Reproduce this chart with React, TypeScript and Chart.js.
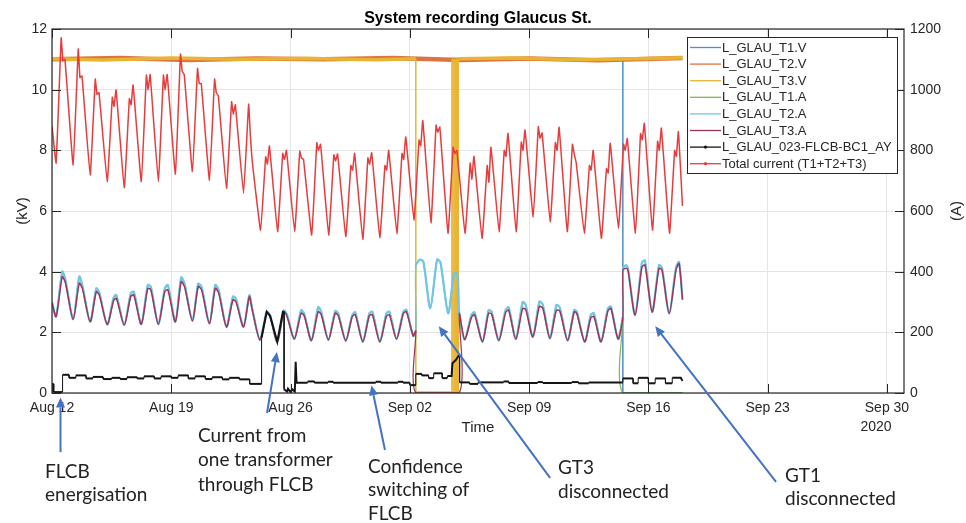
import React, { useEffect, useRef } from 'react';
import { Chart, registerables } from 'chart.js';

Chart.register(...registerables);

// ---------- data (x = days since Aug 12 2020, 00:00) ----------
const X_TICK_VALUES = [0, 7, 14, 21, 28, 35, 42, 49];
const X_TICK_LABELS = ['Aug 12', 'Aug 19', 'Aug 26', 'Sep 02', 'Sep 09', 'Sep 16', 'Sep 23', 'Sep 30'];
const X_YEAR_LABEL = '2020';

const SERIES_NAMES = [
  'L_GLAU_T1.V',
  'L_GLAU_T2.V',
  'L_GLAU_T3.V',
  'L_GLAU_T1.A',
  'L_GLAU_T2.A',
  'L_GLAU_T3.A',
  'L_GLAU_023-FLCB-BC1_AY',
  'Total current (T1+T2+T3)',
];

// Voltages (kV, left axis)
const T1V: [number, number][] = [[0, 11.0], [10, 11.02], [20, 10.99], [30, 11.01], [33.5, 11.0], [33.5, 0], [37, 0]];
const T2V: [number, number][] = [[0, 11.0], [4, 11.04], [8, 10.98], [12, 11.03], [16, 11.0], [20, 11.04], [24, 10.98], [28, 11.03], [32, 10.97], [37, 11.04]];
const T3V: [number, number][] = [
  [0, 11.02], [3, 10.98], [7, 11.04], [11, 11.0], [15, 11.03], [19, 10.99], [21.35, 11.02], [21.35, 0],
  [23.47, 0], [23.47, 11.0], [23.53, 11.0], [23.53, 0], [23.6, 0], [23.6, 11.0], [23.66, 11.0], [23.66, 0],
  [23.72, 0], [23.72, 11.0], [23.78, 11.0], [23.78, 0], [23.84, 0], [23.84, 11.0], [23.9, 11.02],
  [27, 11.04], [31, 10.99], [35, 11.03], [37, 11.05],
];

// Transformer currents (A, right axis)
const T3A: [number, number][] = [
  [0, 297], [0.24, 252], [0.6, 383], [0.78, 365],
  [1.24, 243], [1.6, 362], [1.78, 345],
  [2.24, 235], [2.6, 334], [2.78, 322],
  [3.24, 226], [3.62, 305], [3.78, 312],
  [4.24, 224], [4.62, 318], [4.8, 323],
  [5.24, 227], [5.62, 345], [5.8, 340],
  [6.24, 227], [6.62, 335], [6.8, 340],
  [7.24, 235], [7.58, 367], [7.78, 350],
  [8.24, 238], [8.58, 351], [8.78, 340],
  [9.24, 229], [9.58, 345], [9.78, 330],
  [10.24, 218], [10.62, 307], [10.8, 300],
  [11.24, 218], [11.58, 318], [11.75, 274],
  [12.2, 175], [12.6, 263], [12.8, 250],
  [13.22, 169], [13.6, 268], [13.78, 255],
  [14.22, 178], [14.62, 263], [14.8, 255],
  [15.22, 173], [15.62, 268], [15.8, 258],
  [16.22, 175], [16.62, 263], [16.8, 255],
  [17.24, 172], [17.62, 252], [17.8, 258],
  [18.24, 169], [18.62, 255], [18.8, 258],
  [19.24, 169], [19.62, 252], [19.8, 258],
  [20.22, 178], [20.62, 262], [20.8, 268],
  [21.2, 188], [21.35, 205], [21.35, 0],
  [23.9, 0], [23.9, 262],
  [24.22, 176], [24.62, 250], [24.8, 258],
  [25.26, 169], [25.62, 263], [25.8, 260],
  [26.22, 173], [26.62, 265], [26.8, 273],
  [27.22, 178], [27.62, 279], [27.8, 275],
  [28.22, 185], [28.6, 285], [28.8, 280],
  [29.22, 180], [29.6, 273], [29.8, 270],
  [30.26, 173], [30.65, 268], [30.8, 262],
  [31.26, 169], [31.62, 248], [31.8, 252],
  [32.22, 169], [32.62, 270], [32.8, 279],
  [33.22, 178], [33.5, 250], [33.5, 405], [33.7, 411], [33.8, 405],
  [34.22, 257], [34.62, 415], [34.8, 422],
  [35.22, 267], [35.62, 411], [35.8, 405],
  [36.22, 262], [36.62, 405], [36.8, 427],
  [37.0, 307],
];
const T2A: [number, number][] = [
  [0, 300], [0.24, 252], [0.6, 400], [0.78, 375],
  [1.24, 243], [1.6, 384], [1.78, 355],
  [2.24, 235], [2.6, 345], [2.78, 330],
  [3.24, 226], [3.62, 315], [3.78, 323],
  [4.24, 224], [4.62, 328], [4.8, 334],
  [5.24, 227], [5.62, 356], [5.8, 350],
  [6.24, 227], [6.62, 345], [6.8, 356],
  [7.24, 235], [7.58, 381], [7.78, 360],
  [8.24, 238], [8.58, 360], [8.78, 350],
  [9.24, 229], [9.58, 356], [9.78, 340],
  [10.24, 218], [10.62, 318], [10.8, 310],
  [11.24, 218], [11.58, 322], [11.75, 278],
  [12.2, 175], [12.6, 268], [12.8, 255],
  [13.22, 169], [13.6, 272], [13.78, 260],
  [14.22, 178], [14.62, 273], [14.8, 262],
  [15.22, 173], [15.62, 283], [15.8, 268],
  [16.22, 175], [16.62, 270], [16.8, 262],
  [17.24, 172], [17.62, 257], [17.8, 266],
  [18.24, 169], [18.62, 262], [18.8, 268],
  [19.24, 169], [19.62, 262], [19.8, 268],
  [20.22, 178], [20.62, 268], [20.8, 274],
  [21.2, 188], [21.35, 205], [21.35, 420], [21.6, 440], [21.8, 432],
  [22.2, 279], [22.6, 440], [22.8, 430],
  [23.25, 263], [23.6, 395], [23.8, 390], [23.9, 262],
  [24.22, 176], [24.62, 258], [24.8, 266],
  [25.26, 169], [25.62, 273], [25.8, 268],
  [26.22, 173], [26.62, 274], [26.8, 282],
  [27.22, 178], [27.62, 300], [27.8, 290],
  [28.22, 185], [28.6, 301], [28.8, 292],
  [29.22, 180], [29.6, 290], [29.8, 282],
  [30.26, 173], [30.65, 274], [30.8, 268],
  [31.26, 169], [31.62, 258], [31.8, 263],
  [32.22, 169], [32.62, 278], [32.8, 285],
  [33.22, 178], [33.5, 252], [33.5, 410], [33.7, 422], [33.8, 412],
  [34.22, 257], [34.62, 430], [34.8, 437],
  [35.22, 267], [35.62, 422], [35.8, 412],
  [36.22, 262], [36.62, 415], [36.8, 432],
  [37.0, 310],
];
// T1 follows T2 until GT1 is disconnected
const T1A_DROP: [number, number][] = [[33.5, 250], [33.5, 0], [37, 0]];
const T1A: [number, number][] = [...T2A.filter(([t]) => t < 33.5), ...T1A_DROP];

// FLCB current (A, right axis)
const FLCB: [number, number][] = [
  [0, 30], [0.1, 30], [0.1, 3], [0.62, 3], [0.62, 60], [1.0, 60], [1.0, 50], [1.4, 50], [1.4, 58], [2.0, 58],
  [2.0, 48], [2.4, 48], [2.4, 53], [3.0, 53], [3.0, 46], [3.5, 46], [3.5, 50], [4.0, 50], [4.0, 46], [4.4, 46],
  [4.4, 52], [5.0, 52], [5.0, 48], [5.4, 48], [5.4, 55], [6.0, 55], [6.0, 48], [6.4, 48], [6.4, 55], [7.0, 55],
  [7.0, 50], [7.4, 50], [7.4, 58], [8.0, 58], [8.0, 48], [8.4, 48], [8.4, 55], [9.0, 55], [9.0, 46], [9.4, 46],
  [9.4, 52], [10.0, 52], [10.0, 45], [10.4, 45], [10.4, 50], [11.0, 50], [11.0, 45], [11.6, 45], [11.6, 30],
  [12.3, 30], [12.3, 182], [12.6, 268], [12.8, 255], [13.22, 169], [13.55, 268], [13.62, 268], [13.62, 12],
  [13.8, 5], [13.85, 14], [14.0, 3], [14.1, 12], [14.25, 5], [14.3, 103], [14.35, 34],
  [15.0, 34], [15.0, 38], [15.4, 38], [15.4, 34], [16.2, 34], [16.2, 37], [16.5, 37], [16.5, 34],
  [19.0, 34], [19.0, 37], [19.3, 37], [19.3, 34], [20.3, 34], [20.3, 37], [20.6, 37], [20.6, 34],
  [21.0, 34], [21.0, 26], [21.35, 26], [21.35, 63], [21.7, 63], [21.7, 58], [22.1, 58], [22.1, 49],
  [22.4, 49], [22.4, 65], [22.9, 65], [22.9, 49], [23.2, 49], [23.2, 56], [23.45, 56], [23.5, 98],
  [23.7, 109], [23.85, 122], [23.92, 122], [23.92, 35],
  [24.5, 35], [24.5, 30], [25.0, 30], [25.0, 35], [26.5, 35], [26.5, 38], [26.8, 38], [26.8, 33],
  [28.5, 33], [28.5, 36], [28.8, 36], [28.8, 33], [30.5, 33], [30.5, 36], [30.9, 36], [30.9, 32],
  [31.5, 32], [31.5, 35], [33.5, 35], [33.5, 48], [34.1, 48], [34.1, 32], [34.4, 32], [34.4, 50],
  [35.0, 50], [35.0, 32], [35.4, 32], [35.4, 48], [36.0, 48], [36.0, 32], [36.4, 32], [36.4, 50],
  [36.9, 50], [37.0, 40],
];

// Total current (A, right axis): per day trough, first peak, dip, second peak
const TOTAL_START = 880;
const TOTAL_END = 617;
const TOTAL_TROUGH = [758, 752, 719, 697, 677, 697, 697, 722, 730, 702, 675, 658, 537, 532, 532, 521, 521, 516, 506, 513, 526, 570, 561, 527, 527, 510, 532, 532, 581, 565, 532, 527, 510, 543, 527, 537, 527];
const TOTAL_PEAK1 = [1171, 1134, 1035, 975, 970, 1048, 1048, 1117, 1070, 1035, 960, 952, 779, 790, 797, 825, 785, 750, 775, 750, 790, 834, 883, 810, 758, 750, 800, 827, 878, 826, 820, 750, 740, 820, 855, 830, 800];
const TOTAL_DIP = [1095, 1040, 985, 945, 950, 1000, 1000, 1060, 1020, 990, 920, 850, 755, 770, 775, 800, 765, 735, 755, 735, 770, 815, 860, 790, 705, 695, 780, 800, 840, 800, 790, 735, 725, 800, 835, 800, 780];
const TOTAL_PEAK2 = [1100, 1045, 990, 999, 1015, 1050, 1050, 1050, 1020, 980, 950, 760, 814, 800, 770, 820, 788, 790, 792, 800, 844, 898, 877, 800, 780, 810, 856, 867, 857, 876, 760, 800, 823, 839, 889, 873, 862];
const TOTAL_PHASES = [0.24, 0.54, 0.64, 0.76];

// ---------- styling ----------
const COLORS = ['#4f8fc4', '#dd7440', '#e8b432', '#86b553', '#70c6e8', '#9c3559', '#141414', '#e93b3b'];
const FONT = '"Liberation Sans", Arial, Helvetica, sans-serif';
const ANNO_FONT = 'Lato, "Open Sans", sans-serif';
const ARROW_COLOR = '#4472c4';
const DARK = '#262626';

const ANNOTATIONS = [
  { lines: ['FLCB', 'energisation'], tx: 45, ty: 478, lh: 23, tail: [0.5, -195], tip: [0.5, -15] },
  { lines: ['Current from', 'one transformer', 'through FLCB'], tx: 198, ty: 441.5, lh: 24.8, tail: [12.62, -66], tip: [13.2, 135] },
  { lines: ['Confidence', 'switching of', 'FLCB'], tx: 368, ty: 472.5, lh: 23.8, tail: [19.54, -188], tip: [18.75, 25] },
  { lines: ['GT3', 'disconnected'], tx: 558, ty: 473.5, lh: 24, tail: [29.23, -280], tip: [22.7, 220] },
  { lines: ['GT1', 'disconnected'], tx: 785, ty: 481.5, lh: 23.5, tail: [42.49, -293], tip: [35.4, 220] },
];

const toXY = (pairs: [number, number][]) => pairs.map(([x, y]) => ({ x, y }));

function buildTotal() {
  const pts = [{ x: 0, y: TOTAL_START }];
  TOTAL_TROUGH.forEach((_, d) => {
    const vals = [TOTAL_TROUGH[d], TOTAL_PEAK1[d], TOTAL_DIP[d], TOTAL_PEAK2[d]];
    vals.forEach((v, k) => pts.push({ x: d + TOTAL_PHASES[k], y: v }));
  });
  pts.push({ x: 37, y: TOTAL_END });
  return pts;
}

const overlayPlugin = {
  id: 'overlay',
  afterDraw(chart: any) {
    const { ctx, chartArea: ca, scales } = chart;
    const xs = scales.x;
    const ys = scales.y;
    const y1 = scales.y1;
    ctx.save();

    // box
    ctx.strokeStyle = DARK;
    ctx.lineWidth = 1.2;
    ctx.strokeRect(ca.left, ca.top, ca.right - ca.left, ca.bottom - ca.top);

    // inward ticks
    ctx.lineWidth = 1;
    const TL = 9;
    ctx.beginPath();
    xs.ticks.forEach((t: any) => {
      const px = Math.round(xs.getPixelForValue(t.value)) + 0.5;
      ctx.moveTo(px, ca.bottom); ctx.lineTo(px, ca.bottom - TL);
      ctx.moveTo(px, ca.top); ctx.lineTo(px, ca.top + TL);
    });
    ys.ticks.forEach((t: any) => {
      const py = Math.round(ys.getPixelForValue(t.value)) + 0.5;
      ctx.moveTo(ca.left, py); ctx.lineTo(ca.left + TL, py);
    });
    y1.ticks.forEach((t: any) => {
      const py = Math.round(y1.getPixelForValue(t.value)) + 0.5;
      ctx.moveTo(ca.right, py); ctx.lineTo(ca.right - TL, py);
    });
    ctx.stroke();

    // title
    ctx.fillStyle = '#000';
    ctx.font = `bold 16px ${FONT}`;
    ctx.textAlign = 'center';
    ctx.textBaseline = 'alphabetic';
    ctx.fillText('System recording Glaucus St.', (ca.left + ca.right) / 2, 23);

    // axis titles
    ctx.fillStyle = DARK;
    ctx.font = `15px ${FONT}`;
    ctx.textBaseline = 'middle';
    const midY = (ca.top + ca.bottom) / 2;
    ctx.save(); ctx.translate(23, midY); ctx.rotate(-Math.PI / 2); ctx.fillText('(kV)', 0, 0); ctx.restore();
    ctx.save(); ctx.translate(957, midY); ctx.rotate(-Math.PI / 2); ctx.fillText('(A)', 0, 0); ctx.restore();
    ctx.fillText('Time', (ca.left + ca.right) / 2, 428);
    ctx.font = `14px ${FONT}`;
    ctx.fillText(X_YEAR_LABEL, xs.getPixelForValue(X_TICK_VALUES[X_TICK_VALUES.length - 1]) - 11, 427.5);

    // legend
    const lx = 687, ly = 37, lw = 210, lh = 136;
    ctx.fillStyle = '#fff';
    ctx.fillRect(lx, ly, lw, lh);
    ctx.strokeStyle = DARK;
    ctx.lineWidth = 1;
    ctx.strokeRect(lx + 0.5, ly + 0.5, lw, lh);
    ctx.font = `13px ${FONT}`;
    ctx.textAlign = 'left';
    ctx.textBaseline = 'middle';
    chart.data.datasets.forEach((ds: any, i: number) => {
      const yy = ly + 10.5 + i * 16.6;
      ctx.strokeStyle = ds.borderColor;
      ctx.lineWidth = 1.3;
      ctx.beginPath(); ctx.moveTo(lx + 3, yy); ctx.lineTo(lx + 34, yy); ctx.stroke();
      if (i >= 6) {
        ctx.fillStyle = ds.borderColor;
        ctx.beginPath(); ctx.arc(lx + 18.5, yy, 1.6, 0, Math.PI * 2); ctx.fill();
      }
      ctx.fillStyle = DARK;
      ctx.fillText(ds.label, lx + 35, yy + 0.5);
    });

    // annotations
    ctx.fillStyle = '#222';
    ctx.font = `19px ${ANNO_FONT}`;
    ctx.textAlign = 'left';
    ctx.textBaseline = 'alphabetic';
    ANNOTATIONS.forEach((a) => {
      a.lines.forEach((ln, k) => ctx.fillText(ln, a.tx, a.ty + k * a.lh));
      const x0 = xs.getPixelForValue(a.tail[0]);
      const y0 = y1.getPixelForValue(a.tail[1]);
      const x1 = xs.getPixelForValue(a.tip[0]);
      const y1p = y1.getPixelForValue(a.tip[1]);
      const ang = Math.atan2(y1p - y0, x1 - x0);
      const hl = 10, hw = 4.5;
      const bx = x1 - hl * Math.cos(ang), by = y1p - hl * Math.sin(ang);
      ctx.strokeStyle = ARROW_COLOR;
      ctx.fillStyle = ARROW_COLOR;
      ctx.lineWidth = 2;
      ctx.beginPath(); ctx.moveTo(x0, y0); ctx.lineTo(bx, by); ctx.stroke();
      ctx.beginPath();
      ctx.moveTo(x1, y1p);
      ctx.lineTo(bx + hw * Math.sin(ang), by - hw * Math.cos(ang));
      ctx.lineTo(bx - hw * Math.sin(ang), by + hw * Math.cos(ang));
      ctx.closePath(); ctx.fill();
      ctx.fillStyle = '#222';
    });

    ctx.restore();
  },
};

const isVertical = (c: any) => c.p0.parsed.x === c.p1.parsed.x;

export default function App() {
  const ref = useRef<HTMLCanvasElement>(null);

  useEffect(() => {
    document.body.style.margin = '0';
    const seriesData = [toXY(T1V), toXY(T2V), toXY(T3V), toXY(T1A), toXY(T2A), toXY(T3A), toXY(FLCB), buildTotal()];
    const widths = [2, 4.5, 3.5, 1.5, 2.2, 1.5, 2, 1.5];
    const vWidths = [1.5, 1.5, 1.5, 1.2, 1.2, 1.2, 1, 1.2];
    const tensions = [0, 0, 0, 0.25, 0.25, 0.25, 0, 0.1];
    const axes = ['y', 'y', 'y', 'y1', 'y1', 'y1', 'y1', 'y1'];
    const n = SERIES_NAMES.length;
    const datasets = SERIES_NAMES.map((name, i) => ({
      label: name,
      data: seriesData[i],
      yAxisID: axes[i],
      borderColor: COLORS[i],
      backgroundColor: COLORS[i],
      borderWidth: widths[i],
      pointRadius: 0,
      tension: tensions[i],
      order: n - i,
      segment: { borderWidth: (c: any) => (isVertical(c) ? vWidths[i] : widths[i]) },
    }));

    const chart = new Chart(ref.current as HTMLCanvasElement, {
      type: 'line',
      data: { datasets } as any,
      plugins: [overlayPlugin],
      options: {
        animation: false,
        responsive: false,
        devicePixelRatio: 1,
        events: [],
        layout: { padding: { top: 29, left: 0, right: 0, bottom: 0 } },
        plugins: { legend: { display: false }, title: { display: false }, tooltip: { enabled: false } },
        scales: {
          x: {
            type: 'linear',
            min: 0,
            max: 50,
            afterBuildTicks: (s: any) => { s.ticks = X_TICK_VALUES.map((v) => ({ value: v })); },
            afterFit: (s: any) => { s.height = 130; },
            ticks: {
              autoSkip: false,
              maxRotation: 0,
              padding: 7,
              color: DARK,
              font: { family: FONT, size: 14 },
              callback: (v: any) => X_TICK_LABELS[X_TICK_VALUES.indexOf(Number(v))] ?? '',
            },
            grid: { color: '#e4e4e4', drawTicks: false },
            border: { display: false },
          },
          y: {
            position: 'left',
            min: 0,
            max: 12,
            afterFit: (s: any) => { s.width = 52; },
            ticks: { stepSize: 2, padding: 5, color: DARK, font: { family: FONT, size: 14 }, callback: (v: any) => String(v) },
            grid: { color: '#e4e4e4', drawTicks: false },
            border: { display: false },
          },
          y1: {
            position: 'right',
            min: 0,
            max: 1200,
            afterFit: (s: any) => { s.width = 62; },
            ticks: { stepSize: 200, padding: 6, color: DARK, font: { family: FONT, size: 14 }, callback: (v: any) => String(v) },
            grid: { drawOnChartArea: false, drawTicks: false },
            border: { display: false },
          },
        },
      } as any,
    });
    return () => chart.destroy();
  }, []);

  return <canvas ref={ref} width={966} height={523} style={{ display: 'block', width: 966, height: 523 }} />;
}
